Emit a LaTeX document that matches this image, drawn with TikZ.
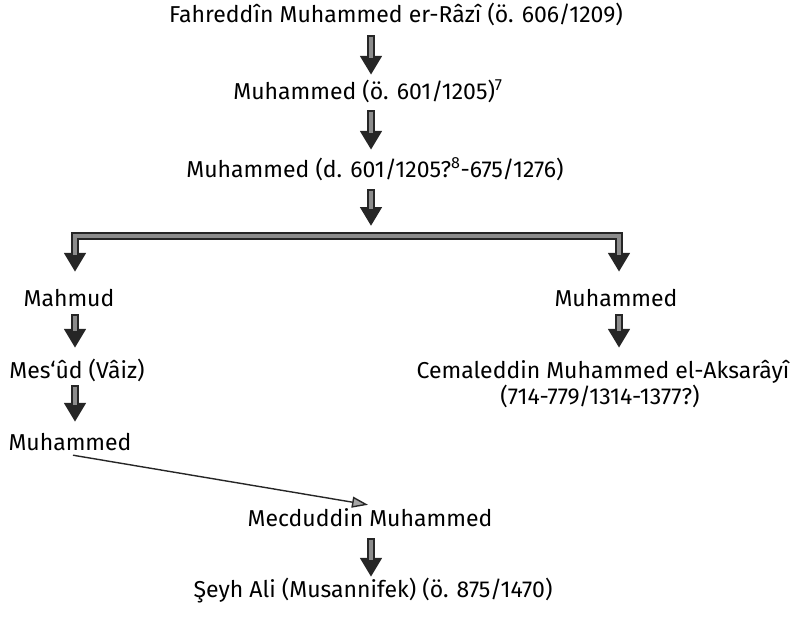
\documentclass[tikz,border=0pt]{standalone}
\usepackage{fontspec}
\setmainfont{Fira Sans}
\usetikzlibrary{arrows.meta}
\tikzset{
  lbl/.style={inner sep=0pt, anchor=base, font=\fontsize{23}{27}\selectfont, text height=17pt, text depth=5pt},
  blk/.style 2 args={line width=8pt, draw=black!85, shorten <=#1, shorten >=#2,
     -{Triangle[width=21pt,length=19pt]},
     postaction={draw=black!45, line width=4pt, -, shorten <=#1+1.5pt, shorten >=#2+17pt}},
  blkb/.style={line width=8pt, draw=black!85, shorten <=#1, shorten >=#1,
     {Triangle[width=21pt,length=19pt]}-{Triangle[width=21pt,length=19pt]},
     postaction={draw=black!45, line width=4pt, -, shorten <=#1+17pt, shorten >=#1+17pt}},
  thin/.style={draw=black!85, line width=1.4pt, -{Triangle[width=11pt,length=16pt,fill=black!35]}}
}
\begin{document}
\begin{tikzpicture}[x=1pt,y=-1pt]
\useasboundingbox (0,0) rectangle (795,623);
\coordinate (cm) at (371,0);
\coordinate (cl) at (75,0);
\coordinate (cr) at (619,0);
\node[lbl] (razi) at (396,23) {Fahreddîn Muhammed er-Râzî (ö. 606/1209)};
\node[lbl] (m1) at (368,100) {Muhammed (ö. 601/1205)\textsuperscript{7}};
\node[lbl] (m2) at (375,178) {Muhammed (d. 601/1205?\textsuperscript{8}-675/1276)};
\node[lbl] (mahmud) at (69,306) {Mahmud};
\node[lbl] (mesud) at (77,378) {Mes‘ûd (Vâiz)};
\node[lbl] (m3) at (70,450) {Muhammed};
\node[lbl] (mr) at (616,306) {Muhammed};
\node[lbl] (cem) at (603,378) {Cemaleddin Muhammed el-Aksarâyî};
\node[lbl] (cemd) at (600,404) {(714-779/1314-1377?)};
\node[lbl] (mec) at (370,526) {Mecduddin Muhammed};
\node[lbl] (seyh) at (373,597) {Şeyh Ali (Musannifek) (ö. 875/1470)};
\coordinate (bar) at (371,236);
\draw[blk={7pt}{8pt}] (razi.south -| cm) -- (m1.north -| cm);
\draw[blk={5pt}{11pt}] (m1.south -| cm) -- (m2.north -| cm);
\draw[blk={6pt}{0pt}] (m2.south -| cm) -- ([yshift=10pt]bar);
\draw[blkb=17pt] (mahmud.north -| cl) |- (bar) -| (mr.north -| cr);
\draw[blk={3pt}{13pt}] (mahmud.south -| cl) -- (mesud.north -| cl);
\draw[blk={2pt}{11pt}] (mesud.south -| cl) -- (m3.north -| cl);
\draw[blk={3pt}{13pt}] (mr.south -| cr) -- (cem.north -| cr);
\draw[thin] ([xshift=3pt]m3.south) -- ([xshift=-2pt,yshift=4pt]mec.north);
\draw[blk={7pt}{3pt}] (mec.south -| cm) -- (seyh.north -| cm);
\end{tikzpicture}
\end{document}
